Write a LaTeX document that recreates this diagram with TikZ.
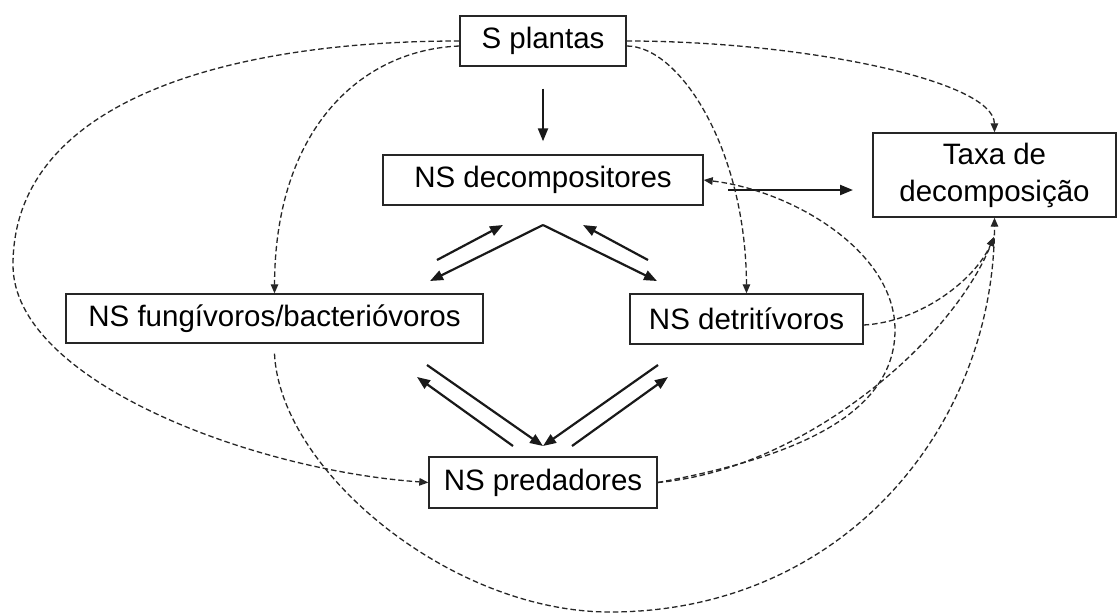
\documentclass[tikz,border=0pt]{standalone}
\usepackage{fontspec}
\setmainfont{Liberation Sans}
\usetikzlibrary{arrows.meta}
\begin{document}
\begin{tikzpicture}[x=1pt,y=-1pt,
  box/.style={draw=black!85, line width=1.4pt, inner sep=0pt, font=\fontsize{29.5}{37}\selectfont, align=center},
  solidarr/.style={line width=2.2pt, black!90, -{Triangle[length=13pt,width=10pt]}},
  dasharr/.style={line width=1.3pt, dash pattern=on 5.5pt off 3pt, black!85, -{Triangle[length=9pt,width=7.5pt]}},
  dashline/.style={line width=1.3pt, dash pattern=on 5.5pt off 3pt, black!85}]
\useasboundingbox (0,0) rectangle (1119,614);
\fill[white] (0,0) rectangle (1119,614);

% nodes
\node[box, minimum width=166pt, minimum height=50pt] (plantas) at (543,41) {S plantas};
\node[box, minimum width=320pt, minimum height=50pt] (decomp) at (543,180) {NS decompositores};
\node[box, minimum width=243pt, minimum height=84pt] (taxa) at (994.5,175) {Taxa de\\decomposição};
\node[box, minimum width=417pt, minimum height=49pt] (fung) at (274.5,318.5) {NS fungívoros/bacterióvoros};
\node[box, minimum width=233pt, minimum height=50pt] (detr) at (746.5,319) {NS detritívoros};
\node[box, minimum width=228pt, minimum height=51pt] (pred) at (543,482.5) {NS predadores};

% free ends of the solid arrows
\coordinate (dt1) at (728,190);
\coordinate (dt2) at (853,190);
\coordinate (vpk) at (543,225);
\coordinate (vl) at (430,281);
\coordinate (vr) at (657,281);
\coordinate (vlb) at (437,260);
\coordinate (vlt) at (503,225);
\coordinate (vrb) at (648,260);
\coordinate (vrt) at (583,225);
\coordinate (pl1) at (427,365);
\coordinate (pl2) at (417,377);
\coordinate (pl3) at (513,446);
\coordinate (pr1) at (658,365);
\coordinate (pr2) at (668,377);
\coordinate (pr3) at (572,446);
\coordinate (pin) at (543,446);
\coordinate (tin) at (994,237);

% solid arrows
\draw[solidarr] ([yshift=-22pt]plantas.south) -- ([yshift=13pt]decomp.north);
\draw[solidarr] (dt1) -- (dt2);
\draw[solidarr] (vpk) -- (vl);
\draw[solidarr] (vpk) -- (vr);
\draw[solidarr] (vlb) -- (vlt);
\draw[solidarr] (vrb) -- (vrt);
\draw[solidarr] (pl1) -- (pin);
\draw[solidarr] (pl3) -- (pl2);
\draw[solidarr] (pr1) -- (pin);
\draw[solidarr] (pr3) -- (pr2);

% dashed connectors
\draw[dasharr] (plantas.west) .. controls (230,41) and (13,100) .. (13,265)
  .. controls (13,380) and (250,470) .. (pred.west);
\draw[dasharr] ([yshift=-5pt]plantas.west) .. controls (360,50) and (275,130) .. (fung.north);
\draw[dasharr] (plantas.east) .. controls (800,41) and (994,80) .. (taxa.north);
\draw[dasharr] ([yshift=-5pt]plantas.east) .. controls (680,46) and (746,150) .. (detr.north);
\draw[dasharr] ([yshift=-6pt]detr.east) .. controls (920,322) and (975,280) .. (tin);
\draw[dasharr] (pred.east) .. controls (800,470) and (950,345) .. (tin);
\draw[dasharr] (pred.east) .. controls (780,460) and (895,420) .. (895,330)
  .. controls (895,250) and (790,190) .. (decomp.east);
\draw[dasharr] ([yshift=-10pt]fung.south) .. controls (280,470) and (450,612) .. (610,612)
  .. controls (840,612) and (994,430) .. (taxa.south);
\end{tikzpicture}
\end{document}
